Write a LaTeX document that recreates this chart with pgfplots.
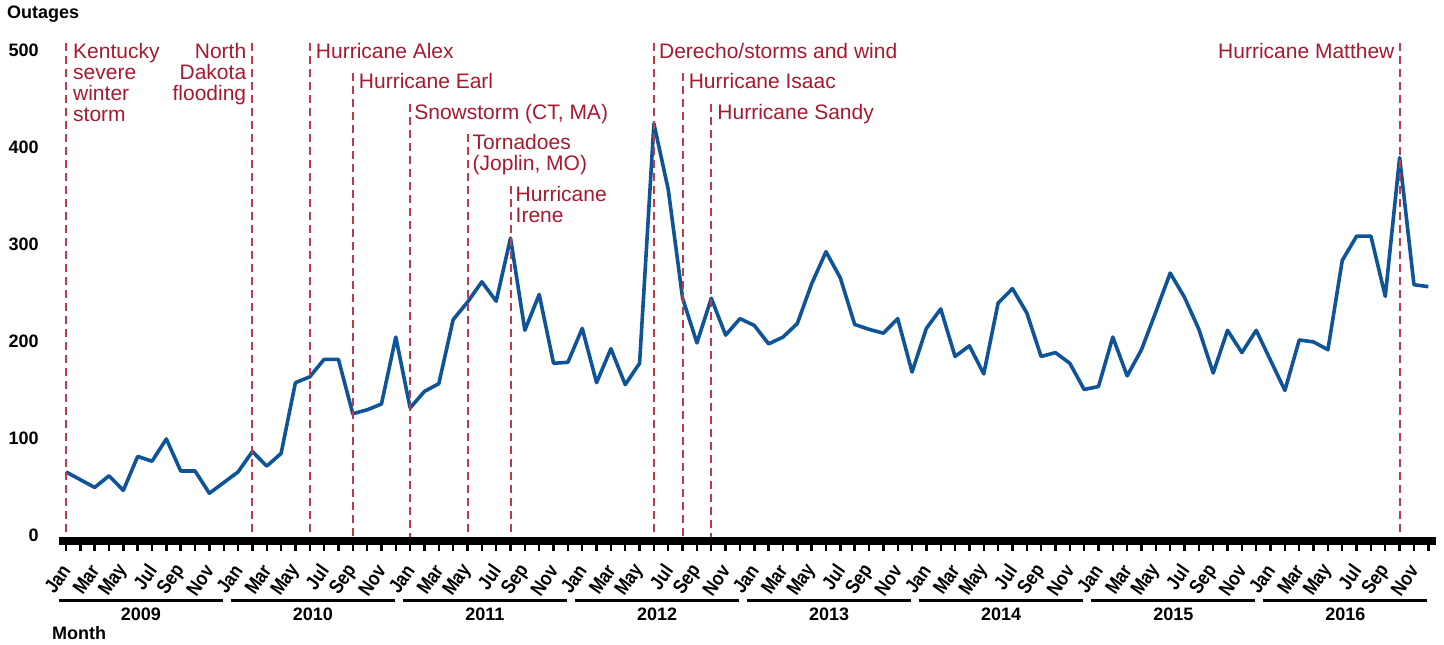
\documentclass[border=0pt]{standalone}
\usepackage{pgfplots}
\pgfplotsset{compat=1.18}
\usepackage{fontspec}
\setmainfont{Liberation Sans}
\newfontfamily\narrowsans[FakeStretch=0.85, BoldFont={Liberation Sans Bold}, BoldFeatures={FakeStretch=0.85}]{Liberation Sans}
\definecolor{lineblue}{RGB}{14,84,150}
\definecolor{annred}{RGB}{166,25,46}
\definecolor{dashred}{RGB}{192,58,78}
\newcommand{\annfont}{\fontsize{21}{21}\selectfont}
\newcommand{\lblfont}{\bfseries\fontsize{18}{18}\selectfont}
\tikzset{dl/.style={dashred, line width=2pt, dash pattern=on 8pt off 5pt}}
\tikzset{anntxt/.style={annred, inner sep=0pt, font=\annfont}}
\begin{document}
\begin{tikzpicture}[x=1pt,y=1pt]
\path[use as bounding box] (0,0) rectangle (1444,645);
\begin{axis}[
  at={(58.8pt,104.2pt)}, anchor=south west,
  scale only axis, width=1376.7pt, height=498.8pt,
  xmin=-0.5, xmax=95.5, ymin=-6, ymax=508.2,
  clip=false,
  axis line style={draw=none},
  /pgf/number format/assume math mode=true,
  xtick={0,2,...,94},
  minor xtick={1,3,...,95},
  xticklabels={Jan,Mar,May,Jul,Sep,Nov,Jan,Mar,May,Jul,Sep,Nov,Jan,Mar,May,Jul,Sep,Nov,Jan,Mar,May,Jul,Sep,Nov,Jan,Mar,May,Jul,Sep,Nov,Jan,Mar,May,Jul,Sep,Nov,Jan,Mar,May,Jul,Sep,Nov,Jan,Mar,May,Jul,Sep,Nov},
  xtick pos=bottom, xtick align=outside,
  major tick length=10pt, minor tick length=10pt,
  xtick style={black, line width=2.4pt},
  every minor tick/.append style={black, line width=2.4pt},
  xticklabel style={rotate=55, anchor=east, inner sep=0pt, font=\narrowsans\bfseries\fontsize{20}{20}\selectfont},
  xticklabel shift=16pt,
  ytick={0,100,...,500},
  ytick style={draw=none},
  ytick pos=left,
  yticklabel style={anchor=east, inner sep=0pt, xshift=-20pt, font=\lblfont},
]
\addplot[lineblue, line width=3.6pt, line join=round, mark=none] coordinates {
(0,65) (1,57) (2,49) (3,61) (4,46) (5,81) (6,76) (7,99) (8,66) (9,66) (10,43) (11,54)
(12,65) (13,86) (14,71) (15,84) (16,157) (17,163) (18,181) (19,181) (20,125) (21,129) (22,135) (23,204)
(24,131) (25,148) (26,156) (27,222) (28,240) (29,261) (30,241) (31,306) (32,211) (33,248) (34,177) (35,178)
(36,213) (37,157) (38,192) (39,155) (40,177) (41,424) (42,356) (43,244) (44,198) (45,244) (46,206) (47,223)
(48,216) (49,197) (50,204) (51,218) (52,259) (53,292) (54,265) (55,217) (56,212) (57,208) (58,223) (59,168)
(60,213) (61,233) (62,184) (63,195) (64,166) (65,239) (66,254) (67,229) (68,184) (69,188) (70,177) (71,150)
(72,153) (73,204) (74,164) (75,191) (76,230) (77,270) (78,245) (79,212) (80,167) (81,211) (82,188) (83,211)
(84,180) (85,149) (86,201) (87,199) (88,191) (89,283) (90,308) (91,308) (92,246) (93,389) (94,258) (95,256)
};
\draw[dl] (axis cs:0,507) -- (axis cs:0,-2);
\node[anntxt, anchor=north west, align=left] at ([xshift=7pt]axis cs:0,507) {Kentucky\\severe\\winter\\storm};
\draw[dl] (axis cs:13,507) -- (axis cs:13,-2);
\node[anntxt, anchor=north east, align=right] at ([xshift=-6pt]axis cs:13,507) {North\\Dakota\\flooding};
\draw[dl] (axis cs:17,507) -- (axis cs:17,-2);
\node[anntxt, anchor=north west] at ([xshift=6pt]axis cs:17,507) {Hurricane Alex};
\draw[dl] (axis cs:20,476.3) -- (axis cs:20,-2);
\node[anntxt, anchor=north west] at ([xshift=6pt]axis cs:20,476.3) {Hurricane Earl};
\draw[dl] (axis cs:24,444.4) -- (axis cs:24,-2);
\node[anntxt, anchor=north west] at ([xshift=4pt]axis cs:24,444.4) {Snowstorm (CT, MA)};
\draw[dl] (axis cs:28,413.5) -- (axis cs:28,-2);
\node[anntxt, anchor=north west, align=left] at ([xshift=5pt]axis cs:28,413.5) {Tornadoes\\(Joplin, MO)};
\draw[dl] (axis cs:31,359.9) -- (axis cs:31,-2);
\node[anntxt, anchor=north west, align=left] at ([xshift=5pt]axis cs:31,359.9) {Hurricane\\Irene};
\draw[dl] (axis cs:41,507) -- (axis cs:41,-2);
\node[anntxt, anchor=north west] at ([xshift=5pt]axis cs:41,507) {Derecho/storms and wind};
\draw[dl] (axis cs:43,476.3) -- (axis cs:43,-2);
\node[anntxt, anchor=north west] at ([xshift=6pt]axis cs:43,476.3) {Hurricane Isaac};
\draw[dl] (axis cs:45,444.4) -- (axis cs:45,-2);
\node[anntxt, anchor=north west] at ([xshift=6pt]axis cs:45,444.4) {Hurricane Sandy};
\draw[dl] (axis cs:93,507) -- (axis cs:93,-2);
\node[anntxt, anchor=north east] at ([xshift=-5pt]axis cs:93,507) {Hurricane Matthew};
\end{axis}
\draw[line width=7.5pt] (58.8,104.2) -- (1435.5,104.2);
\foreach \yr [count=\k from 0] in {2009,2010,2011,2012,2013,2014,2015,2016}{
  \draw[line width=3pt] ({58.8+172.08*\k},44) -- ({58.8+172.08*\k+164},44);
  \node[font=\lblfont, inner sep=0pt] at ({58.8+172.08*\k+82},31) {\yr};
}
\node[font=\lblfont, inner sep=0pt, anchor=west] at (7,631) {Outages};
\node[font=\lblfont, inner sep=0pt, anchor=west] at (52,12) {Month};
\end{tikzpicture}
\end{document}
